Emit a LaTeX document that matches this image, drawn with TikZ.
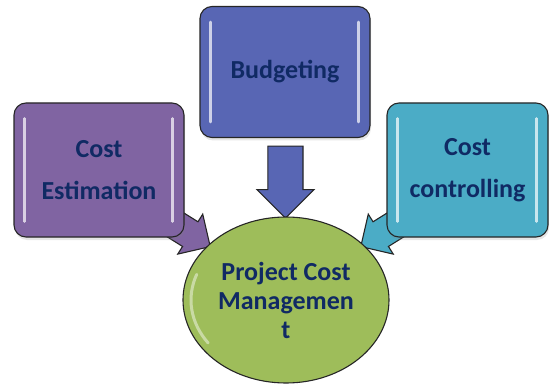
\documentclass[tikz,border=0pt]{standalone}
\usepackage{fontspec}
\setmainfont{Carlito}
\usetikzlibrary{shapes.geometric,shapes.arrows,calc,shadows}
\definecolor{ink}{RGB}{16,42,100}
\definecolor{lilac}{RGB}{128,100,162}
\definecolor{indigo}{RGB}{88,102,180}
\definecolor{aqua}{RGB}{75,172,198}
\definecolor{leaf}{RGB}{158,189,90}
\pgfdeclarelayer{back}
\pgfsetlayers{back,main}

\begin{document}
\begin{tikzpicture}[x=1pt,y=1pt,
  box/.style={draw=black!85,line width=1.1pt,rounded corners=12pt,inner sep=0pt,minimum width=170pt,minimum height=134pt,align=center,text=ink,font=\bfseries\fontsize{26}{42}\selectfont,drop shadow={shadow xshift=1pt,shadow yshift=-3pt,opacity=0.2}},
  hub/.style={ellipse,draw=black!85,line width=1.1pt,fill=leaf,minimum width=206pt,minimum height=166pt,inner sep=0pt,align=center,text=ink,font=\bfseries\fontsize{26}{29}\selectfont},
  feed/.style={single arrow,draw=black!85,line width=1.1pt,single arrow head indent=0pt},
  gloss/.style={white,opacity=0.7,line width=2.5pt,line cap=round}]
\useasboundingbox (0,0) rectangle (549,389);
\node[box,fill=lilac] at (99,219) (est) {Cost\\Estimation};
\node[box,fill=indigo,minimum height=131pt] at (285,317) (bud) {Budgeting};
\node[box,fill=aqua,minimum width=161pt] at (467.5,219) (ctl) {Cost\\controlling};
\node[hub] at (286,89) (pcm) {Project Cost\\Managemen\\t};
\begin{pgfonlayer}{back}
\node[feed,fill=indigo,rotate=-90,inner sep=17pt,minimum height=72pt,single arrow head extend=11pt] at ($(bud.south)!.45!(pcm.north)$) (down) {};
\node[feed,fill=lilac,rotate=-32,inner sep=14pt,minimum height=46pt,single arrow head extend=9pt] at ([shift={(0,7)}]est.south east) (estarr) {};
\node[feed,fill=aqua,rotate=-148,inner sep=14pt,minimum height=46pt,single arrow head extend=9pt] at ([shift={(0,7)}]ctl.south west) (ctlarr) {};
\end{pgfonlayer}
\foreach \n in {est,bud,ctl} {
  \draw[gloss] ([shift={(11,-16)}]\n.north west) -- ([shift={(11,16)}]\n.south west);
  \draw[gloss] ([shift={(-12,-16)}]\n.north east) -- ([shift={(-12,16)}]\n.south east);
}
\draw[gloss,opacity=0.45,line width=3pt] (pcm.center) ++(160:95 and 75) arc[start angle=160,end angle=215,x radius=95,y radius=75];
\end{tikzpicture}
\end{document}
